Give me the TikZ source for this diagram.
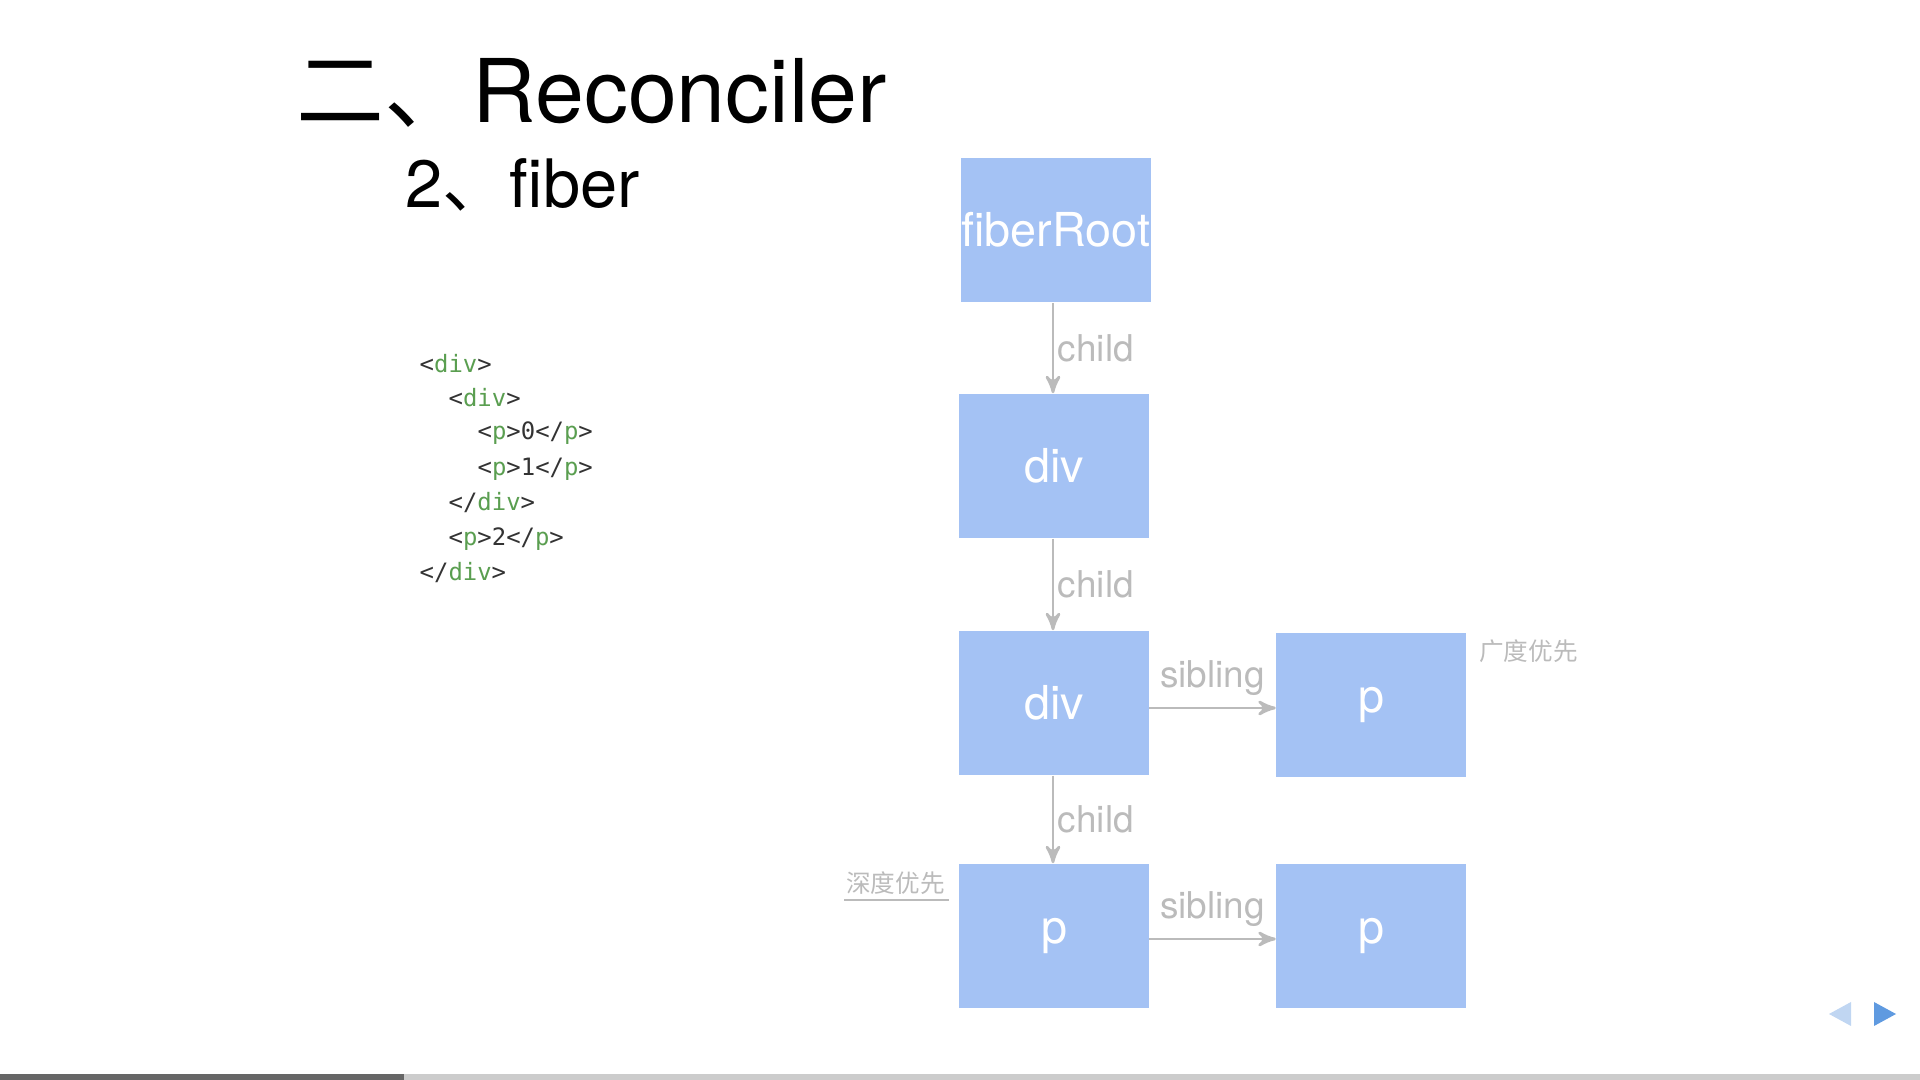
\documentclass[tikz,border=0pt]{standalone}
\usepackage{fontspec}
\setmainfont{TeX Gyre Heros}
\setmonofont{DejaVu Sans Mono}
\newfontfamily\cjk{Noto Sans CJK SC}
\usetikzlibrary{positioning,arrows}
\definecolor{boxblue}{HTML}{A4C2F4}
\definecolor{linegray}{HTML}{BBBBBB}
\definecolor{taggreen}{HTML}{5A9E50}
\definecolor{navlight}{HTML}{C0D6F2}
\definecolor{navdark}{HTML}{5F9AE0}
\newcommand{\tg}[1]{\textcolor{taggreen}{#1}}

\begin{document}
\begin{tikzpicture}[x=0.01cm,y=-0.01cm,>=stealth',
		fib/.style={fill=boxblue,draw=none,minimum width=1.89cm,minimum height=1.44cm,
			inner sep=0pt,text=white,font=\fontsize{13.3}{15}\selectfont},
		link/.style={->,draw=linegray,line width=0.8pt},
		lbl/.style={text=linegray,font=\fontsize{10.5}{12}\selectfont,inner sep=1pt},
		note/.style={text=linegray,font=\cjk\fontsize{7}{8}\selectfont,inner sep=1pt},
		code/.style={anchor=west,inner sep=0pt,text=black!80,font=\ttfamily\fontsize{6.8}{8}\selectfont},
	]
		\useasboundingbox (0,0) rectangle (1920,1080);
		% titles
		\node[anchor=west,inner sep=0pt,font=\fontsize{25}{30}\selectfont] (title) at (296,93)
			{{\cjk 二、}Reconciler};
		\node[anchor=west,inner sep=0pt,font=\fontsize{19}{23}\selectfont] (sub) at (405,185)
			{2{\cjk 、}fiber};
		% source
		\node[code] (c1) at (419,364) {<\tg{div}>};
		\node[code] (c2) at (448,398) {<\tg{div}>};
		\node[code] (c3) at (477,433) {<\tg{p}>0</\tg{p}>};
		\node[code] (c4) at (477,469) {<\tg{p}>1</\tg{p}>};
		\node[code] (c5) at (448,503) {</\tg{div}>};
		\node[code] (c6) at (448,539) {<\tg{p}>2</\tg{p}>};
		\node[code] (c7) at (419,573) {</\tg{div}>};
		% fiber tree
		\node[fib] (root) at (1056,230) {fiberRoot};
		\node[fib] (divA) at (1054,466) {div};
		\node[fib] (divB) at (1054,703) {div};
		\node[fib] (pA) at (1054,936) {p};
		\node[fib] (pB) at (1371,705) {p};
		\node[fib] (pC) at (1371,936) {p};
		\draw[link] (1053,303) -- (divA.north -| 1053,0) node[lbl,pos=0.5,right] {child};
		\draw[link] (divA.south -| 1053,0) -- (divB.north -| 1053,0) node[lbl,pos=0.5,right] {child};
		\draw[link] (divB.south -| 1053,0) -- (pA.north -| 1053,0) node[lbl,pos=0.5,right] {child};
		\draw[link] (divB.east |- 0,708) -- (pB.west |- 0,708) node[lbl,midway,above=2pt] {sibling};
		\draw[link] (pA.east |- 0,939) -- (pC.west |- 0,939) node[lbl,midway,above=2pt] {sibling};
		\node[note,anchor=west] (bfs) at (1475,651) {广度优先};
		\node[note,anchor=east] (dfs) at (949,883) {深度优先};
		\draw[linegray,line width=0.6pt] (844,900) -- (dfs.south east |- 0,900);
		% navigation
		\fill[navlight] (1829,1014) -- (1851,1002) -- (1851,1026) -- cycle;
		\fill[navdark] (1896,1014) -- (1874,1002) -- (1874,1026) -- cycle;
		\fill[black!20] (0,1074) rectangle (1920,1080);
		\fill[black!60] (0,1074) rectangle (404,1080);
\end{tikzpicture}
\end{document}
